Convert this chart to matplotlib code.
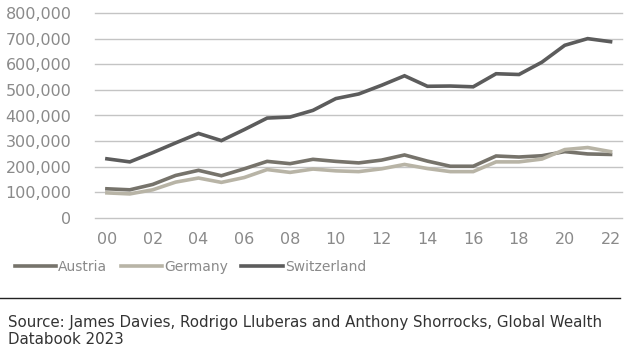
import matplotlib.pyplot as plt
from matplotlib.ticker import FuncFormatter

years = list(range(0, 23))
year_labels = ["%02d" % y for y in range(0, 23, 2)]

austria = [114, 110, 131, 166, 186, 165, 192, 221, 212, 229, 221, 215, 226, 246,
           222, 202, 202, 242, 238, 243, 259, 250, 248]
germany = [98, 94, 110, 140, 156, 139, 158, 189, 178, 191, 184, 181, 192, 209,
           193, 181, 181, 219, 219, 230, 267, 275, 259]
switzerland = [231, 219, 255, 293, 330, 302, 345, 390, 394, 420, 466, 484, 518, 555,
               514, 515, 512, 563, 560, 608, 674, 700, 688]

series = [("Austria", austria, "#76736b"),
          ("Germany", germany, "#b8b4a6"),
          ("Switzerland", switzerland, "#5c5c5c")]

plt.rcParams['font.family'] = ['DejaVu Sans']

fig = plt.figure(figsize=(6.28, 3.5), dpi=100)
ax = fig.add_axes([95 / 628, 1 - 218 / 350, 527 / 628, 205 / 350])

for name, vals, col in series:
    ax.plot(years, [v * 1000 for v in vals], color=col, lw=2.6, label=name,
            solid_joinstyle='miter')

ax.set_ylim(0, 800000)
ax.set_xlim(-0.52, 22.5)
ax.set_yticks(range(0, 800001, 100000))
ax.yaxis.set_major_formatter(FuncFormatter(lambda v, p: "{:,.0f}".format(v)))
ax.set_xticks(range(0, 23, 2))
ax.set_xticklabels(year_labels)
ax.grid(axis='y', color='#c4c4c4', lw=1)
for gl in ax.get_ygridlines():
    gl.set_clip_on(False)
ax.set_axisbelow(True)
for s in ax.spines.values():
    s.set_visible(False)
ax.tick_params(length=0, labelsize=11.5, colors='#8a8a8a', pad=10)
ax.tick_params(axis='y', pad=17)

fig.legend(loc='center left', bbox_to_anchor=(9 / 628, 1 - 267 / 350), ncol=3,
           frameon=False, fontsize=10, handlelength=3.0, handletextpad=0.15,
           columnspacing=0.95, labelcolor='#8a8a8a', borderaxespad=0)

fig.add_artist(plt.Line2D([0, 620 / 628], [1 - 298 / 350, 1 - 298 / 350],
                          color='#222222', lw=1))
fig.text(8 / 628, 1 - 322 / 350,
         "Source: James Davies, Rodrigo Lluberas and Anthony Shorrocks, Global Wealth",
         fontsize=10.8, color='#333333', va='center')
fig.text(8 / 628, 1 - 340 / 350, "Databook 2023",
         fontsize=10.8, color='#333333', va='center')

fig.savefig("out.png", dpi=100)
